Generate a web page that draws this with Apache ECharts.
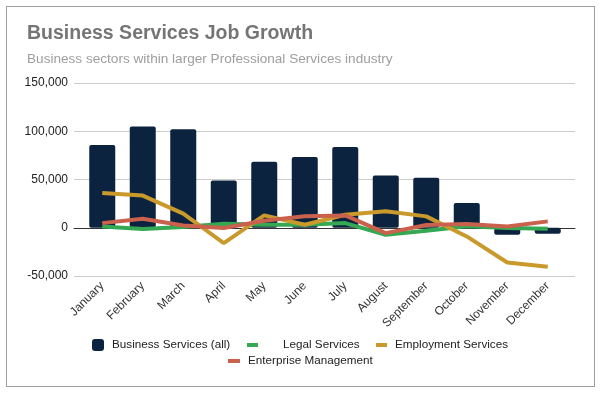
<!DOCTYPE html>
<html>
<head>
<meta charset="utf-8">
<script src="https://cdn.jsdelivr.net/npm/echarts@6/dist/echarts.min.js"></script>
<style>
  html, body { margin: 0; padding: 0; background: #fff; }
  #frame { position: absolute; left: 6px; top: 6px; width: 587px; height: 379px; border: 1px solid #9e9e9e; }
  #chart { position: absolute; left: 0; top: 0; width: 600px; height: 393px; }
</style>
</head>
<body>
<div id="frame"></div>
<div id="chart"></div>
<script>
const months = ['January','February','March','April','May','June','July','August','September','October','November','December'];
const businessServices = [85700, 105000, 102000, 49000, 68400, 73300, 83700, 54200, 51700, 25700, -7300, -6200];
const legalServices = [1400, -1400, 700, 4200, 3100, 3000, 4800, -7300, -3100, 1500, -300, -1000];
const employmentServices = [36100, 33300, 14600, -16000, 12800, 3100, 13500, 17000, 11800, -9000, -36000, -40300];
const enterpriseManagement = [4800, 9400, 2400, -300, 7300, 11800, 12800, -5600, 2800, 3800, 1400, 6600];
const yTicks = { min: -50000, max: 150000, interval: 50000 };

const FONT = "'Liberation Sans', Arial, sans-serif";
const chart = echarts.init(document.getElementById('chart'));

function legendItem(name, left, top, icon, w, h, padLeft) {
  return {
    data: [name], left: left, top: top, padding: 0, icon: icon,
    itemWidth: w, itemHeight: h, selectedMode: false,
    textStyle: { color: '#222', fontSize: 11.7, fontFamily: FONT, padding: [0, 0, 0, padLeft] }
  };
}

chart.setOption({
  animation: false,
  title: [
    { text: 'Business Services Job Growth', left: 27, top: 24, padding: 0,
      textStyle: { color: '#757575', fontSize: 19.5, fontWeight: 'bold', fontFamily: FONT } },
    { text: 'Business sectors within larger Professional Services industry', left: 27, top: 52, padding: 0,
      textStyle: { color: '#9e9e9e', fontSize: 13.6, fontWeight: 'normal', fontFamily: FONT } }
  ],
  legend: [
    legendItem('Business Services (all)', 92, 339, 'roundRect', 12, 12, 3),
    legendItem('Legal Services', 247, 339, 'rect', 11, 4, 20),
    legendItem('Employment Services', 376, 339, 'rect', 11, 4, 3),
    legendItem('Enterprise Management', 228, 355, 'rect', 12, 4, 3)
  ],
  grid: [
    { left: 82, right: 32, top: 83, height: 193 },
    { left: 74, right: 25, top: 83, height: 193 }
  ],
  xAxis: [
    { type: 'category', gridIndex: 0, data: months,
      axisLine: { show: false }, axisTick: { show: false },
      axisLabel: { rotate: 45, color: '#333', fontSize: 12, fontFamily: FONT, margin: 8, interval: 0 } },
    { type: 'category', gridIndex: 1, data: months,
      axisLine: { show: true, onZero: true, lineStyle: { color: '#333', width: 1 } },
      axisTick: { show: false }, axisLabel: { show: false } }
  ],
  yAxis: [
    { type: 'value', gridIndex: 0, min: yTicks.min, max: yTicks.max, interval: yTicks.interval,
      splitLine: { show: false }, axisLine: { show: false }, axisTick: { show: false },
      axisLabel: { color: '#222', fontSize: 12, fontFamily: FONT, margin: 14,
        formatter: v => v.toLocaleString('en-US') } },
    { type: 'value', gridIndex: 1, min: yTicks.min, max: yTicks.max, interval: yTicks.interval,
      splitLine: { show: true, lineStyle: { color: '#cccccc', width: 1 } },
      axisLine: { show: false }, axisTick: { show: false }, axisLabel: { show: false } }
  ],
  series: [
    { name: 'Business Services (all)', type: 'bar', xAxisIndex: 0, yAxisIndex: 0,
      data: businessServices, barWidth: 26,
      itemStyle: { color: '#0c2340', borderRadius: 2 } },
    { name: 'Legal Services', type: 'line', xAxisIndex: 0, yAxisIndex: 0,
      data: legalServices, symbol: 'none', color: '#34a853',
      lineStyle: { width: 4, color: '#34a853' } },
    { name: 'Employment Services', type: 'line', xAxisIndex: 0, yAxisIndex: 0,
      data: employmentServices, symbol: 'none', color: '#c99a2b',
      lineStyle: { width: 4, color: '#c99a2b' } },
    { name: 'Enterprise Management', type: 'line', xAxisIndex: 0, yAxisIndex: 0,
      data: enterpriseManagement, symbol: 'none', color: '#c9614c',
      lineStyle: { width: 4, color: '#c9614c' } }
  ]
});
</script>
</body>
</html>
